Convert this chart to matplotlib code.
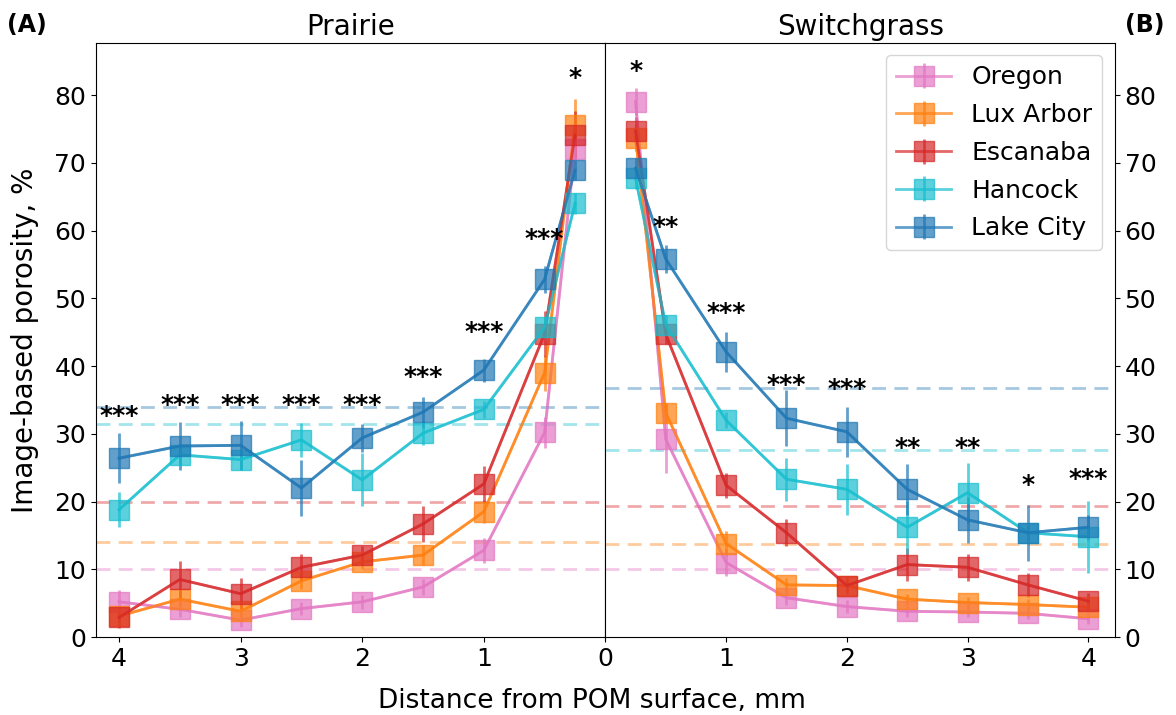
import numpy as np
import matplotlib.pyplot as plt
import matplotlib

matplotlib.rc("xtick", labelsize=18)
matplotlib.rc("ytick", labelsize=18)

dist = [0.25, 0.5, 1, 1.5, 2, 2.5, 3, 3.5, 4]
sites = ["Oregon", "Lux Arbor", "Escanaba", "Hancock", "Lake City"]
colors = ["tab:pink", "tab:orange", "tab:red", "tab:cyan", "tab:blue"]

# Prairie
prairie = {
    "Oregon":    [72.1, 30.2, 12.8, 7.4, 5.2, 4.2, 2.5, 4.1, 5.2],
    "Lux Arbor": [75.6, 39.0, 18.5, 12.1, 11.1, 8.3, 3.8, 5.6, 3.1],
    "Escanaba":  [74.1, 44.8, 22.6, 16.7, 12.1, 10.3, 6.4, 8.5, 2.9],
    "Hancock":   [64.0, 45.7, 33.6, 30.1, 23.2, 29.1, 26.2, 26.9, 18.8],
    "Lake City": [68.9, 52.8, 39.4, 33.2, 29.4, 22.0, 28.3, 28.2, 26.4],
}
prairie_err = {
    "Oregon":    [1.5, 2.3, 1.8, 1.2, 1.0, 1.0, 1.0, 1.2, 1.7],
    "Lux Arbor": [3.8, 2.7, 1.7, 1.5, 1.0, 1.2, 1.0, 1.2, 1.0],
    "Escanaba":  [3.5, 3.4, 2.7, 2.7, 1.4, 2.0, 2.3, 2.7, 1.5],
    "Hancock":   [1.5, 1.5, 1.2, 1.8, 3.9, 2.5, 1.5, 1.5, 2.6],
    "Lake City": [1.5, 2.0, 1.7, 2.3, 2.1, 4.2, 3.6, 3.6, 3.7],
}
prairie_mean = [10.0, 14.0, 20.0, 31.5, 34.0]

# Switchgrass
switch = {
    "Oregon":    [79.0, 29.2, 11.0, 5.8, 4.5, 3.8, 3.7, 3.5, 2.7],
    "Lux Arbor": [73.7, 33.1, 13.8, 7.7, 7.6, 5.6, 5.1, 4.8, 4.4],
    "Escanaba":  [74.7, 44.7, 22.4, 15.4, 7.6, 10.7, 10.3, 7.7, 5.3],
    "Hancock":   [67.7, 46.1, 32.0, 23.3, 21.8, 16.2, 21.3, 15.4, 14.8],
    "Lake City": [69.2, 55.8, 42.1, 32.3, 30.3, 21.8, 17.3, 15.4, 16.2],
}
switch_err = {
    "Oregon":    [2.0, 5.0, 2.0, 1.0, 1.0, 0.8, 0.8, 0.8, 0.8],
    "Lux Arbor": [2.0, 1.5, 1.8, 1.0, 0.8, 0.8, 0.8, 0.8, 0.8],
    "Escanaba":  [2.0, 1.5, 1.8, 2.0, 1.2, 2.4, 2.0, 1.8, 1.2],
    "Hancock":   [1.5, 1.5, 1.2, 3.2, 3.8, 3.9, 4.4, 1.0, 5.3],
    "Lake City": [1.5, 2.0, 3.0, 4.1, 3.7, 3.8, 3.4, 4.1, 1.8],
}
switch_mean = [10.0, 13.8, 19.3, 27.6, 36.8]

prairie_sig = ["*", "***", "***", "***", "***", "***", "***", "***", "***"]
prairie_sig_y = [82.5, 58.8, 45.0, 38.4, 34.3, 34.3, 34.3, 34.3, 32.7]
switch_sig = ["*", "**", "***", "***", "***", "**", "**", "*", "***"]
switch_sig_y = [83.6, 60.6, 47.9, 37.2, 36.6, 27.9, 27.9, 22.5, 23.4]

fig, (ax1, ax2) = plt.subplots(1, 2, figsize=(11.76, 7.15), dpi=100, sharey=True)
fig.subplots_adjust(left=0.0816, right=0.948, top=0.94, bottom=0.109, wspace=0)

for ax, data, err, means, sig, sig_y in [
        (ax1, prairie, prairie_err, prairie_mean, prairie_sig, prairie_sig_y),
        (ax2, switch, switch_err, switch_mean, switch_sig, switch_sig_y)]:
    for site, c, m in zip(sites, colors, means):
        ax.errorbar(dist, data[site], yerr=err[site], color=c, marker="s",
                    ms=14, lw=2, elinewidth=2, alpha=0.7, label=site)
        # darken the connecting line a bit
        ax.plot(dist, data[site], color=c, lw=2, alpha=0.6)
        ax.axhline(m, color=c, ls="--", lw=2, alpha=0.4, dashes=(5, 3))
    for x, s, y in zip(dist, sig, sig_y):
        ax.text(x, y, s, ha="center", va="center", fontsize=18, fontweight="bold")

ax1.set_xlim(4.19, 0)
ax1.set_xticks([4, 3, 2, 1])
ax2.set_xlim(0, 4.22)
ax2.set_xticks([0, 1, 2, 3, 4])
ax1.set_ylim(0, 87.7)
ax1.set_yticks(range(0, 90, 10))
ax2.yaxis.tick_right()
ax2.tick_params(axis="y", labelright=True)

ax1.set_title("Prairie", fontsize=20)
ax2.set_title("Switchgrass", fontsize=20)
ax1.set_ylabel("Image-based porosity, %", fontsize=20, labelpad=11)
fig.text(0.503, 0.01, "Distance from POM surface, mm", ha="center", fontsize=19)
fig.text(0.006, 0.955, "(A)", fontsize=17, fontweight="bold")
fig.text(0.957, 0.955, "(B)", fontsize=17, fontweight="bold")

ax2.legend(loc="upper right", fontsize=18, handlelength=2.2, labelspacing=0.55,
           handletextpad=0.8)

plt.savefig("out.png")
